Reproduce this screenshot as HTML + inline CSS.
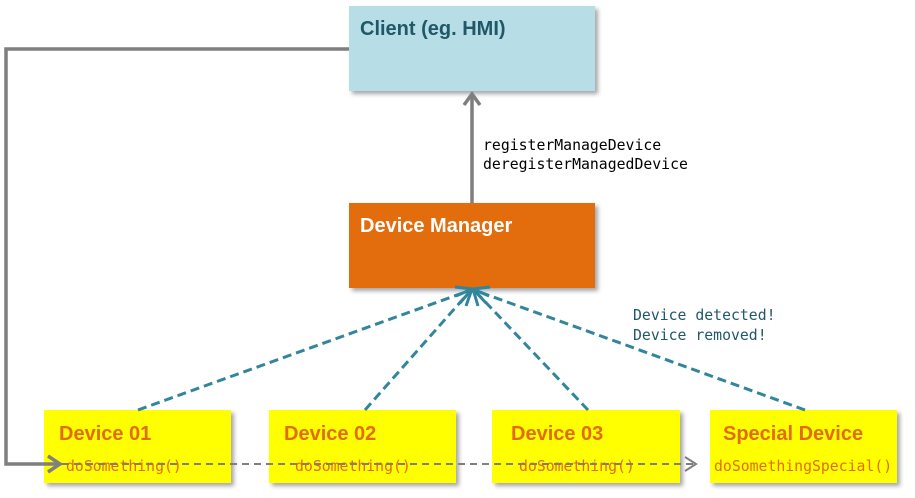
<!DOCTYPE html>
<html><head><style>
html,body{margin:0;padding:0;background:#fff;}
svg{display:block;}
.b{font-family:"Liberation Sans",sans-serif;font-weight:bold;font-size:20px;}
.m{font-family:"DejaVu Sans Mono","Liberation Mono",monospace;font-size:14.8px;}
</style></head><body>
<svg width="915" height="498" viewBox="0 0 915 498" xmlns="http://www.w3.org/2000/svg">
<defs>
<filter id="sh" x="-5%" y="-5%" width="115%" height="120%"><feDropShadow dx="3" dy="3" stdDeviation="2" flood-color="#000" flood-opacity="0.35"/></filter>
</defs>
<rect x="349" y="6" width="246" height="85" fill="#b7dde7" filter="url(#sh)"/>
<text x="360" y="35" class="b" fill="#215868">Client (eg. HMI)</text>
<rect x="349" y="203" width="246" height="85" fill="#e36c0a" filter="url(#sh)"/>
<text x="360" y="232" class="b" fill="#fff">Device Manager</text>
<rect x="44" y="410" width="187" height="73" fill="#ffff00" filter="url(#sh)"/>
<rect x="269" y="410" width="187" height="73" fill="#ffff00" filter="url(#sh)"/>
<rect x="492" y="410" width="188" height="73" fill="#ffff00" filter="url(#sh)"/>
<rect x="710" y="410" width="187" height="73" fill="#ffff00" filter="url(#sh)"/>
<g class="b" fill="#e36c0a">
<text x="59" y="440">Device 01</text>
<text x="284" y="440">Device 02</text>
<text x="511" y="440">Device 03</text>
<text x="723" y="440">Special Device</text>
</g>
<g class="m" fill="#e36c0a">
<text x="66" y="471">doSomething()</text>
<text x="295" y="471">doSomething()</text>
<text x="519" y="471">doSomething()</text>
<text x="714" y="471">doSomethingSpecial()</text>
</g>
<polyline points="349,49 6,49 6,464 58,464" fill="none" stroke="#7f7f7f" stroke-width="3.5"/>
<polyline points="48,456 60,464 48,472" fill="none" stroke="#7f7f7f" stroke-width="3.5"/>
<line x1="62" y1="464" x2="694" y2="464" stroke="#7f7f7f" stroke-width="2" stroke-dasharray="7,5"/>
<polyline points="685,457 696,464 685,471" fill="none" stroke="#7f7f7f" stroke-width="2"/>
<line x1="472" y1="203" x2="472" y2="96" stroke="#7f7f7f" stroke-width="3.5"/>
<polyline points="464,105 472,94 480,105" fill="none" stroke="#7f7f7f" stroke-width="3.5"/>
<g class="m" fill="#000">
<text x="483" y="150">registerManageDevice</text>
<text x="483" y="169">deregisterManagedDevice</text>
</g>
<g class="m" fill="#215868">
<text x="633" y="320">Device detected!</text>
<text x="633" y="340">Device removed!</text>
</g>
<g stroke="#31859c" stroke-width="3" fill="none" stroke-dasharray="9,5">
<line x1="138" y1="410" x2="471" y2="290"/>
<line x1="365" y1="410" x2="471" y2="290"/>
<line x1="588" y1="410" x2="474" y2="290"/>
<line x1="805" y1="410" x2="474" y2="290"/>
</g>
<g stroke="#31859c" stroke-width="3" fill="none">
<polyline points="455,287 472,289 456,296"/>
<polyline points="460,303 472,289 466,306"/>
<polyline points="478,306 473,289 486,303"/>
<polyline points="490,287 473,289 489,296"/>
</g>
</svg>
</body></html>
